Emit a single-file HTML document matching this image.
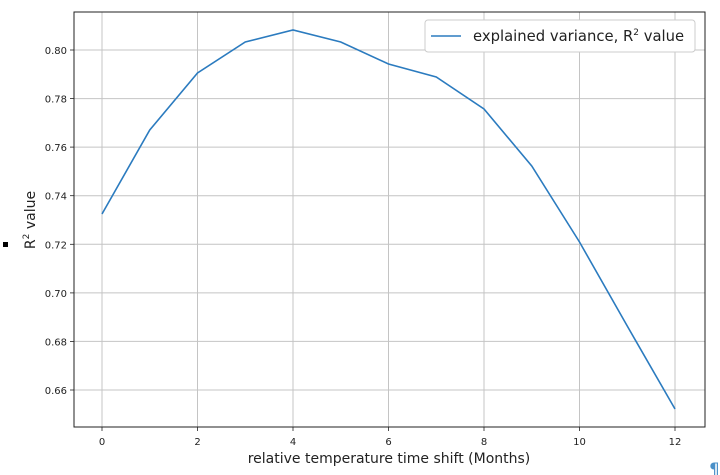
<!DOCTYPE html>
<html><head><meta charset="utf-8"><style>body{margin:0;background:#fff}svg{display:block;font-family:"DejaVu Sans","Liberation Sans",sans-serif}</style></head><body>
<svg width="720" height="475" xmlns="http://www.w3.org/2000/svg">
<g stroke="#c4c4c4" stroke-width="1">
<line x1="102" y1="12" x2="102" y2="427"/><line x1="197.5" y1="12" x2="197.5" y2="427"/><line x1="293" y1="12" x2="293" y2="427"/><line x1="388.5" y1="12" x2="388.5" y2="427"/><line x1="484" y1="12" x2="484" y2="427"/><line x1="579.5" y1="12" x2="579.5" y2="427"/><line x1="675" y1="12" x2="675" y2="427"/>
<line x1="74" y1="50" x2="705" y2="50"/><line x1="74" y1="98.6" x2="705" y2="98.6"/><line x1="74" y1="147.1" x2="705" y2="147.1"/><line x1="74" y1="195.7" x2="705" y2="195.7"/><line x1="74" y1="244.3" x2="705" y2="244.3"/><line x1="74" y1="292.9" x2="705" y2="292.9"/><line x1="74" y1="341.4" x2="705" y2="341.4"/><line x1="74" y1="390" x2="705" y2="390"/>
</g>
<polyline fill="none" stroke="#2b7bbf" stroke-width="1.6" points="102,214 149.75,130 197.5,73 245.25,42 293,30 340.75,42 388.5,64 436.25,77 484,109 531.75,166 579.5,242 627.25,326 675,409"/>
<rect x="74" y="12" width="631" height="415" fill="none" stroke="#222" stroke-width="1"/>
<g stroke="#222" stroke-width="0.8">
<line x1="102" y1="427" x2="102" y2="431"/><line x1="197.5" y1="427" x2="197.5" y2="431"/><line x1="293" y1="427" x2="293" y2="431"/><line x1="388.5" y1="427" x2="388.5" y2="431"/><line x1="484" y1="427" x2="484" y2="431"/><line x1="579.5" y1="427" x2="579.5" y2="431"/><line x1="675" y1="427" x2="675" y2="431"/>
<line x1="70" y1="50" x2="74" y2="50"/><line x1="70" y1="98.6" x2="74" y2="98.6"/><line x1="70" y1="147.1" x2="74" y2="147.1"/><line x1="70" y1="195.7" x2="74" y2="195.7"/><line x1="70" y1="244.3" x2="74" y2="244.3"/><line x1="70" y1="292.9" x2="74" y2="292.9"/><line x1="70" y1="341.4" x2="74" y2="341.4"/><line x1="70" y1="390" x2="74" y2="390"/>
</g>
<g font-size="10" fill="#222" text-anchor="middle">
<text x="102" y="445">0</text><text x="197.5" y="445">2</text><text x="293" y="445">4</text><text x="388.5" y="445">6</text><text x="484" y="445">8</text><text x="579.5" y="445">10</text><text x="675" y="445">12</text>
</g>
<g font-size="10" fill="#222" text-anchor="end">
<text x="67" y="54">0.80</text><text x="67" y="102.6">0.78</text><text x="67" y="151.1">0.76</text><text x="67" y="199.7">0.74</text><text x="67" y="248.3">0.72</text><text x="67" y="296.9">0.70</text><text x="67" y="345.4">0.68</text><text x="67" y="394">0.66</text>
</g>
<text x="389" y="463" font-size="14" fill="#222" text-anchor="middle">relative temperature time shift (Months)</text>
<text transform="translate(35,220) rotate(-90)" font-size="14" fill="#222" text-anchor="middle">R<tspan font-size="9" dy="-6">2</tspan><tspan dy="6"> value</tspan></text>
<rect x="3" y="242" width="5" height="5" fill="#000"/>
<rect x="425" y="20" width="270" height="32" rx="3" fill="#fff" stroke="#ccc"/>
<line x1="431" y1="36" x2="461" y2="36" stroke="#2b7bbf" stroke-width="1.6"/>
<text x="473" y="41" font-size="14.8" fill="#222">explained variance, R<tspan font-size="9" dy="-6">2</tspan><tspan dy="6"> value</tspan></text>
<text x="709" y="475" font-size="17" fill="#4a90c8">¶</text>
</svg>
</body></html>
